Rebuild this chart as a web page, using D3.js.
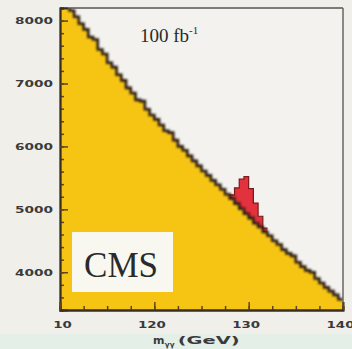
<!DOCTYPE html>
<html><head><meta charset="utf-8">
<script src="https://cdn.jsdelivr.net/npm/d3@7"></script>
<style>html,body{margin:0;padding:0;background:#f0efea;}svg{display:block}</style>
</head><body><svg id="c" width="352" height="349"></svg>
<script>
// ---- data ----
const massStart = 110, massEnd = 140, binWidth = 0.5;
const background = [
  8360, 8250, 8160, 8060, 7950, 7860, 7740, 7700, 7540, 7470,
  7330, 7260, 7140, 7050, 6930, 6850, 6740, 6720, 6590, 6500,
  6430, 6340, 6250, 6220, 6100, 6000, 5940, 5850, 5770, 5690,
  5610, 5540, 5460, 5390, 5320, 5240, 5170, 5090, 5010, 4930,
  4860, 4780, 4720, 4640, 4580, 4500, 4440, 4360, 4300, 4260,
  4160, 4090, 4030, 4000, 3900, 3830, 3760, 3700, 3640, 3570
];
const signalBinStart = [128.0, 128.5, 129.0, 129.5, 130.0, 130.5, 131.0, 131.5];
const signalValues   = [60, 250, 470, 590, 470, 320, 170, 60];
const yTicks = [4000, 5000, 6000, 7000, 8000];
const yTickLabels = ["4000", "5000", "6000", "7000", "8000"];
const xTicks = [110, 120, 130, 140];
const xTickLabels = ["10", "120", "130", "140"];
const lumiLabel = "100 fb";
const lumiSup = "-1";
const expLabel = "CMS";

// ---- layout ----
const svg = d3.select("#c");
const L = 60, R = 343, T = 8, B = 310;
const x = d3.scaleLinear().domain([massStart, massEnd]).range([L, R]);
const y = d3.scaleLinear().domain([3400, 8200]).range([B, T]);

svg.append("rect").attr("x",0).attr("y",0).attr("width",352).attr("height",349).attr("fill","#f0efea");
svg.append("rect").attr("x",L).attr("y",T).attr("width",R-L).attr("height",B-T).attr("fill","#f3f2ee");
svg.append("rect").attr("x",0).attr("y",334).attr("width",352).attr("height",15).attr("fill","#e4efe8");

const defs = svg.append("defs");
defs.append("clipPath").attr("id","plot").append("rect")
  .attr("x",L).attr("y",T).attr("width",R-L).attr("height",B-T);
defs.append("filter").attr("id","blur").append("feGaussianBlur").attr("stdDeviation",0.6);
defs.append("filter").attr("id","blur2").append("feGaussianBlur").attr("stdDeviation",0.9);

const bgPts = background.map((v,i)=>({m: massStart + i*binWidth, v}));
bgPts.push({m: massEnd, v: background[background.length-1]});
const bgAt = m => background[Math.round((m - massStart)/binWidth)];
const sigPts = signalBinStart.map((m,i)=>({m, b: bgAt(m), t: bgAt(m)+signalValues[i]}));
const lastS = signalBinStart[signalBinStart.length-1] + binWidth;
sigPts.push({m: lastS, b: sigPts[sigPts.length-1].b, t: sigPts[sigPts.length-1].t});

const g = svg.append("g").attr("clip-path","url(#plot)");
g.append("path").datum(bgPts)
  .attr("fill","#f6c514")
  .attr("d", d3.area().curve(d3.curveStepAfter).x(d=>x(d.m)).y0(B).y1(d=>y(d.v)));
g.append("path").datum(sigPts)
  .attr("fill","#e2303c").attr("filter","url(#blur)")
  .attr("d", d3.area().curve(d3.curveStepAfter).x(d=>x(d.m)).y0(d=>y(d.b)).y1(d=>y(d.t)));
g.append("path").datum(sigPts)
  .attr("fill","none").attr("stroke","#7a1a1a").attr("stroke-width",1.2).attr("filter","url(#blur)")
  .attr("d", d3.line().curve(d3.curveStepAfter).x(d=>x(d.m)).y(d=>y(d.t)));
g.append("path").datum(bgPts)
  .attr("fill","none").attr("stroke","#2a1c12").attr("stroke-width",2.6)
  .attr("filter","url(#blur2)")
  .attr("d", d3.line().curve(d3.curveStepAfter).x(d=>x(d.m)).y(d=>y(d.v)));

// CMS box
svg.append("rect").attr("x",72).attr("y",232).attr("width",101).attr("height",60)
  .attr("fill","#f8f7f0").attr("filter","url(#blur)");
svg.append("text").attr("x",121).attr("y",277).attr("text-anchor","middle")
  .attr("font-family","Liberation Serif, serif").attr("font-size",35).attr("fill","#2a2a2a")
  .text(expLabel);

// lumi
const lt = svg.append("text").attr("x",140).attr("y",42)
  .attr("font-family","Liberation Serif, serif").attr("font-size",19).attr("fill","#2a2a2a");
lt.append("tspan").text(lumiLabel);
lt.append("tspan").attr("font-size",11).attr("dy",-8).text(lumiSup);

// frame
svg.append("line").attr("x1",L).attr("x2",R).attr("y1",T).attr("y2",T).attr("stroke","#555").attr("stroke-width",1.5);
svg.append("line").attr("x1",R).attr("x2",R).attr("y1",T).attr("y2",B).attr("stroke","#666").attr("stroke-width",1.5);

// axes with inward ticks
const yAxis = d3.axisLeft(y).tickValues(yTicks).tickSize(-8).tickFormat((d,i)=>yTickLabels[i]).tickPadding(14);
const yMinor = d3.axisLeft(y).tickValues(d3.range(3400, 8201, 200)).tickSize(-4).tickFormat("");
const xAxis = d3.axisBottom(x).tickValues(xTicks).tickSize(-8).tickFormat((d,i)=>xTickLabels[i]).tickPadding(12);
const xMinor = d3.axisBottom(x).tickValues(d3.range(110, 140.1, 2.5)).tickSize(-4).tickFormat("");

function styleAxis(sel){
  sel.select(".domain").attr("stroke","#3a2e1e").attr("stroke-width",1.8);
  sel.selectAll(".tick line").attr("stroke","#5a4520").attr("stroke-width",1.5);
  sel.selectAll("text").attr("fill","#3a3a3a").attr("font-family","DejaVu Sans, sans-serif")
    .attr("font-weight","bold").attr("font-size",9);
}
const gym = svg.append("g").attr("transform",`translate(${L},0)`).call(yMinor); styleAxis(gym);
const gy = svg.append("g").attr("transform",`translate(${L},0)`).call(yAxis); styleAxis(gy);
gy.selectAll("text").attr("x",-7).attr("textLength",38).attr("lengthAdjust","spacingAndGlyphs");
const gxm = svg.append("g").attr("transform",`translate(0,${B})`).call(xMinor); styleAxis(gxm);
const gx = svg.append("g").attr("transform",`translate(0,${B})`).call(xAxis); styleAxis(gx);
gx.selectAll("text").each(function(d,i){
  const s = d3.select(this);
  s.attr("textLength", xTickLabels[i].length*9.3).attr("lengthAdjust","spacingAndGlyphs")
   .attr("x", i===0 ? 2 : -3);
});

// x title
const xt = svg.append("text").attr("x",153).attr("y",344)
  .attr("font-family","DejaVu Sans, sans-serif").attr("font-weight","bold").attr("font-size",11).attr("fill","#3a3a3a");
xt.append("tspan").text("m");
xt.append("tspan").attr("font-size",7.5).attr("dy",3).text("γγ");
xt.append("tspan").attr("dy",-3).attr("dx",3).attr("textLength",62).attr("lengthAdjust","spacingAndGlyphs").text("(GeV)");
</script></body></html>
